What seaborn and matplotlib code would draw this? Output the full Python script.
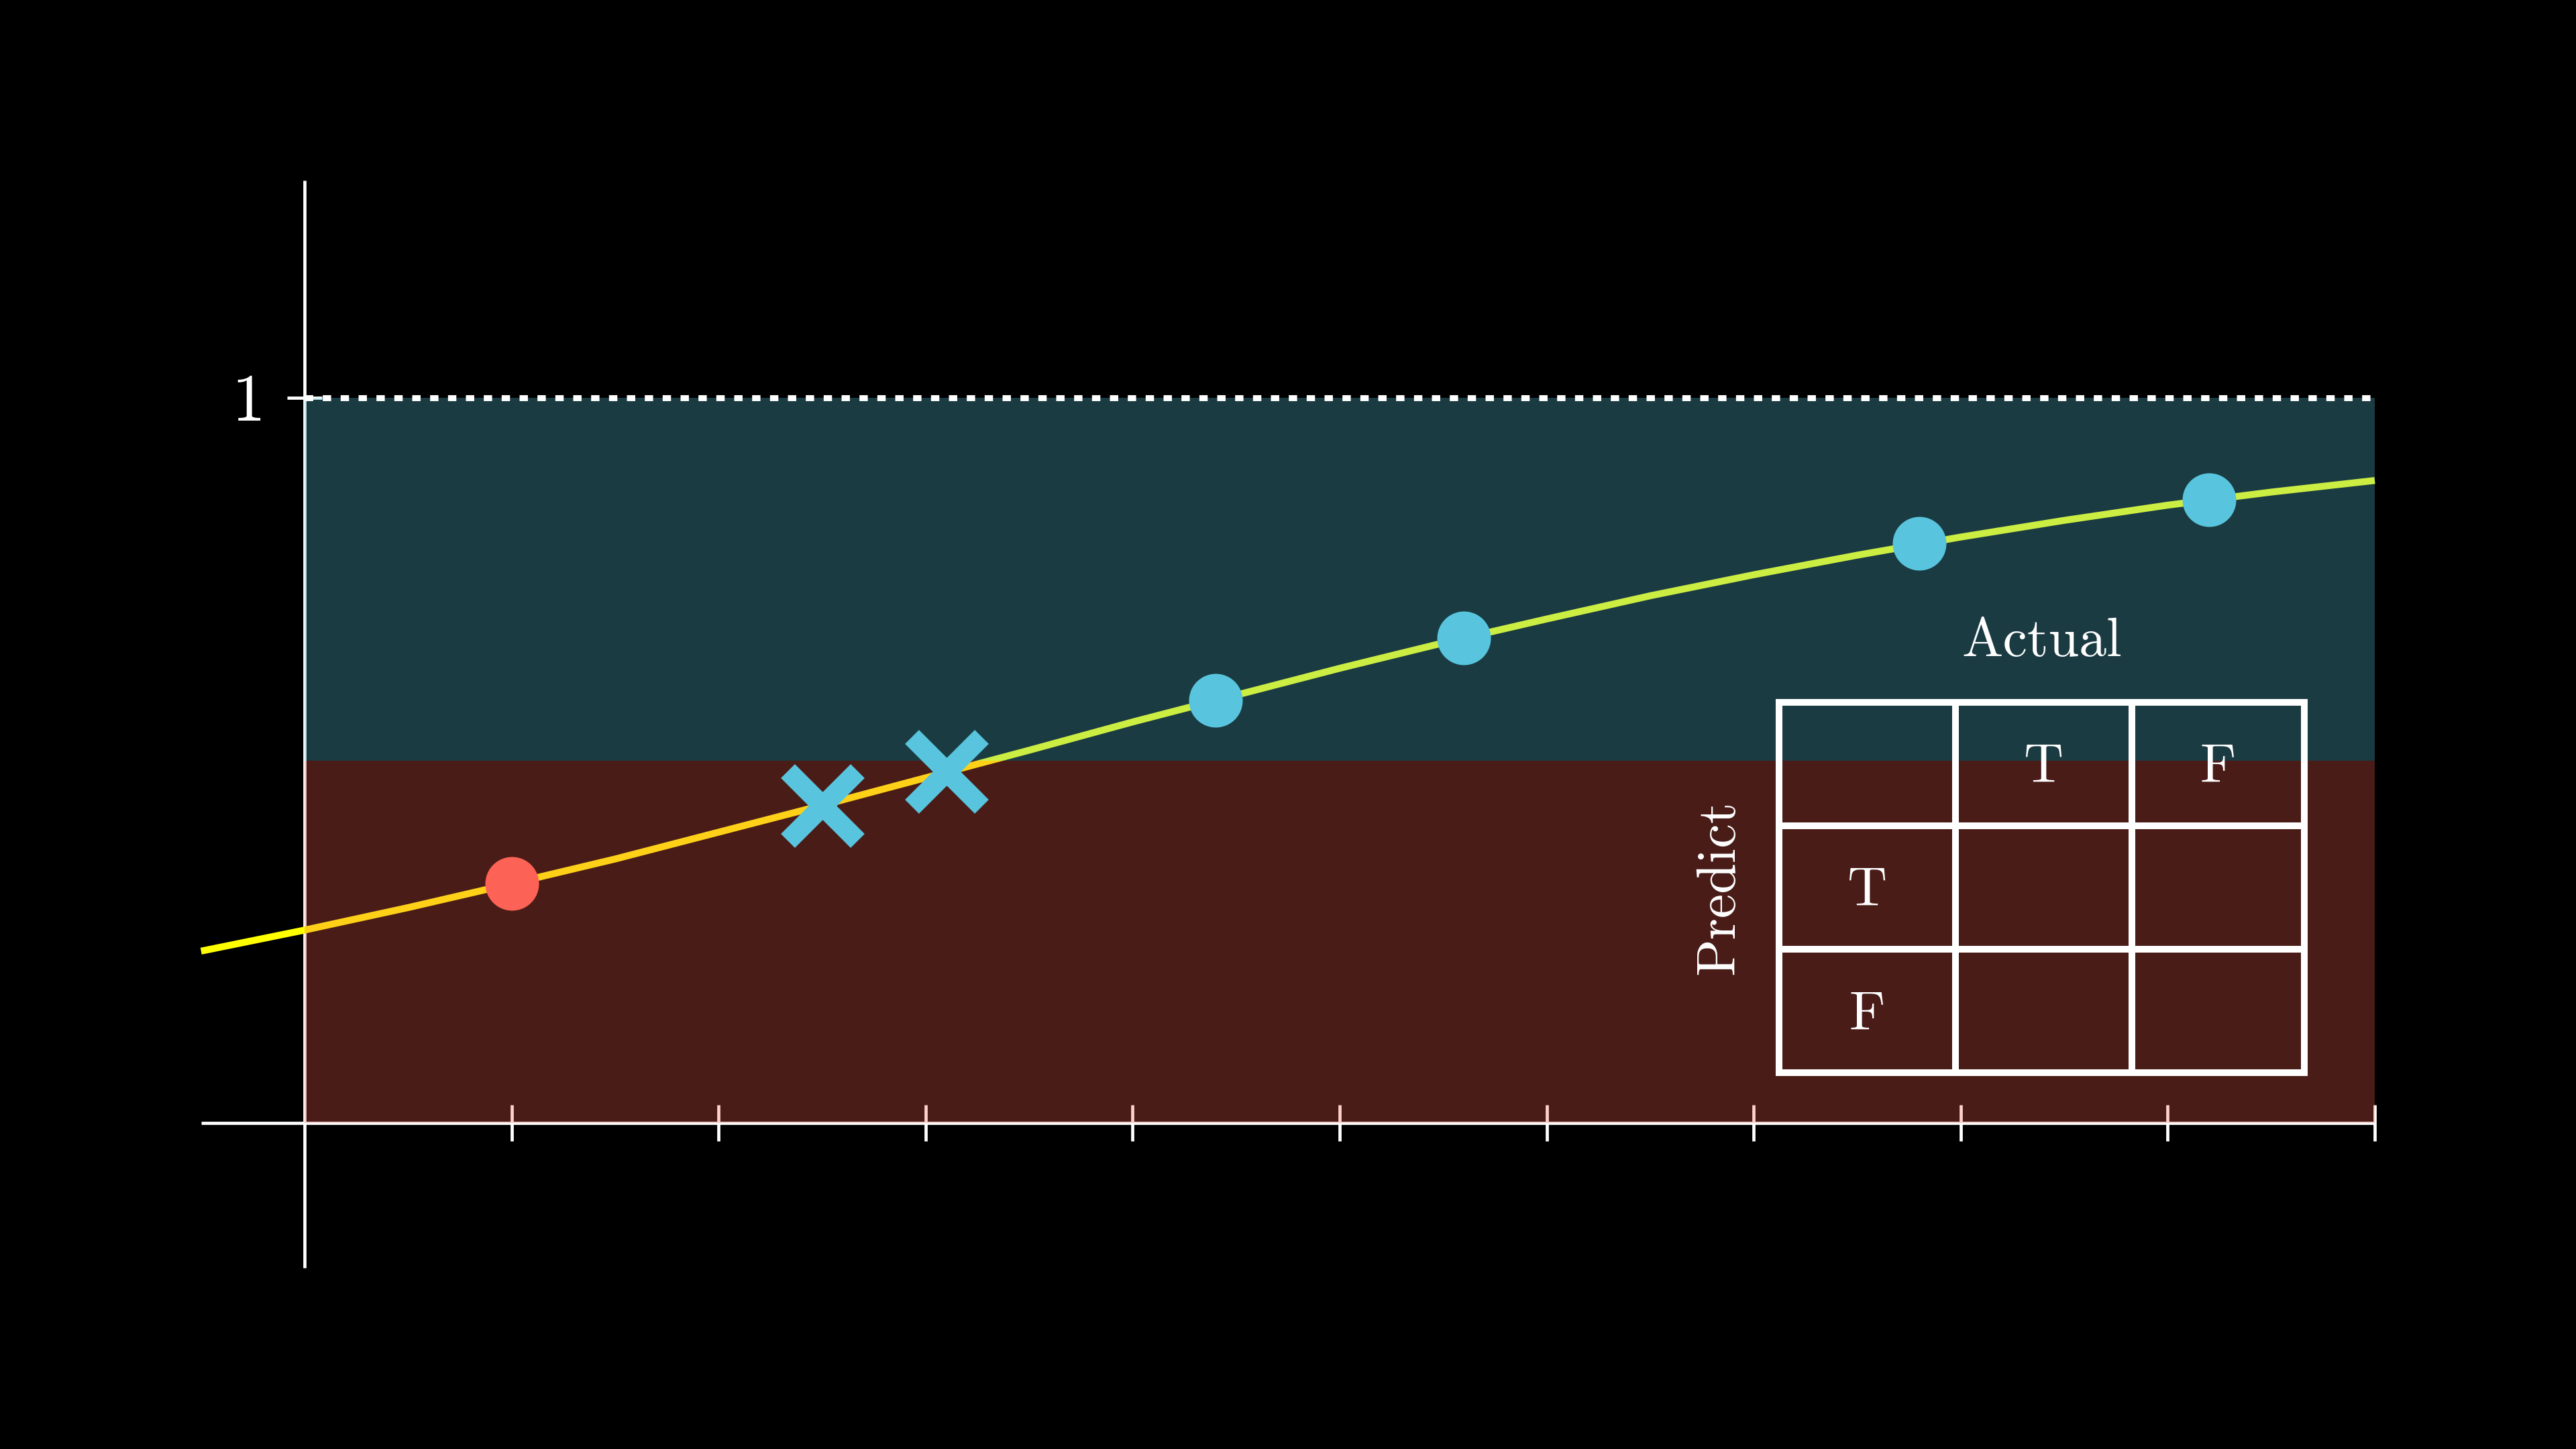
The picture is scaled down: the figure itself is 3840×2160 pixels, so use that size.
import matplotlib
matplotlib.use("Agg")
import matplotlib.pyplot as plt
import seaborn as sns
import numpy as np
import pandas as pd

# ---------------- data ----------------
curve_x = [-0.5, 0.0, 0.5, 1.0, 1.5, 2.0, 2.5, 3.0, 3.5, 4.0, 4.5, 5.0,
           5.5, 6.0, 6.5, 7.0, 7.5, 8.0, 8.5, 9.0, 9.5, 10.0]
curve_y = [0.237, 0.266, 0.297, 0.330, 0.364, 0.401, 0.438, 0.476, 0.514,
           0.553, 0.590, 0.627, 0.662, 0.695, 0.727, 0.756, 0.783, 0.808,
           0.831, 0.852, 0.870, 0.886]

red_dot_x = [1.0]
red_dot_y = [0.330]
blue_dot_x = [4.4, 5.6, 7.8, 9.2]
blue_dot_y = [0.583, 0.669, 0.799, 0.859]
cross_x = [2.5, 3.1]
cross_y = [0.438, 0.485]

x_ticks = [1, 2, 3, 4, 5, 6, 7, 8, 9, 10]
y_tick_values = [1]
y_tick_labels = ["1"]
threshold = 0.5

col_header = ["T", "F"]
row_header = ["T", "F"]
table_title = "Actual"
table_side = "Predict"

# ---------------- style ----------------
BLUE = "#58C4DD"
RED = "#FC6255"
YELLOW = "#FFFF00"
FONT = "cmr10"

sns.set_style("dark")
plt.rcParams["axes.formatter.use_mathtext"] = True

fig = plt.figure(figsize=(19.2, 10.8), dpi=200, facecolor="black")
ax = fig.add_axes([0, 0, 1, 1])
ax.set_facecolor("black")
ax.set_xlim(-1.4712, 10.972)
ax.set_ylim(-0.4496, 1.5486)
ax.axis("off")

# axes lines
axis_lw = 1.7
ax.plot([-0.5, 10], [0, 0], color="white", lw=axis_lw, zorder=1, solid_capstyle="butt")
ax.plot([0, 0], [-0.2, 1.3], color="white", lw=axis_lw, zorder=1, solid_capstyle="butt")
for t in x_ticks:
    ax.plot([t, t], [-0.025, 0.025], color="white", lw=axis_lw, zorder=1, solid_capstyle="butt")
for v in y_tick_values:
    ax.plot([-0.085, 0.085], [v, v], color="white", lw=axis_lw, zorder=1, solid_capstyle="butt")

# curve (beneath the translucent bands)
df_curve = pd.DataFrame({"x": curve_x, "y": curve_y})
sns.lineplot(data=df_curve, x="x", y="y", ax=ax, color=YELLOW, linewidth=3.7,
             zorder=2, sort=False, estimator=None, solid_capstyle="butt")

# translucent bands
ax.fill_between([0, 10], 0, threshold, color=RED, alpha=0.29, lw=0, zorder=3)
ax.fill_between([0, 10], threshold, 1, color=BLUE, alpha=0.3, lw=0, zorder=3)

# dotted line at y = 1
ax.plot([0, 10], [1, 1], color="white", lw=3.2, linestyle=(0, (1.4, 1.6)),
        dash_capstyle="butt", zorder=4)

# points
sns.scatterplot(x=red_dot_x, y=red_dot_y, ax=ax, color=RED, s=830,
                linewidth=0, zorder=6)
sns.scatterplot(x=blue_dot_x, y=blue_dot_y, ax=ax, color=BLUE, s=830,
                linewidth=0, zorder=6)
ax.plot(cross_x, cross_y, linestyle="none", marker="x", color=BLUE,
        markersize=37.5, markeredgewidth=10.6, zorder=6)

# y tick label
for v, lab in zip(y_tick_values, y_tick_labels):
    ax.text(-0.272, v - 0.0315, lab, color="white", fontsize=36, family=FONT,
            ha="center", va="baseline", zorder=7)

# confusion table
tab_cols = [7.123, 7.975, 8.827, 9.660]
tab_rows = [0.5800, 0.4098, 0.2396, 0.0694]
tab_lw = 3.6
for cx in tab_cols:
    ax.plot([cx, cx], [tab_rows[-1], tab_rows[0]], color="white", lw=tab_lw,
            solid_capstyle="projecting", zorder=7)
for ry in tab_rows:
    ax.plot([tab_cols[0], tab_cols[-1]], [ry, ry], color="white", lw=tab_lw,
            solid_capstyle="projecting", zorder=7)

fs = 29.5
ax.text(8.390, 0.6439, table_title, color="white", fontsize=fs, family=FONT,
        ha="center", va="baseline", zorder=8)
for i, lab in enumerate(col_header):
    cx = (tab_cols[i + 1] + tab_cols[i + 2]) / 2
    ax.text(cx, 0.4699, lab, color="white", fontsize=fs, family=FONT,
            ha="center", va="baseline", zorder=8)
row_base = [0.2997, 0.1286]
for i, lab in enumerate(row_header):
    cx = (tab_cols[0] + tab_cols[1]) / 2
    ax.text(cx, row_base[i], lab, color="white", fontsize=fs, family=FONT,
            ha="center", va="baseline", zorder=8)
ax.text(6.902, 0.3247, table_side, color="white", fontsize=fs, family=FONT,
        ha="center", va="baseline", rotation=90, rotation_mode="anchor", zorder=8)

fig.savefig("out.png", dpi=200, facecolor="black")
